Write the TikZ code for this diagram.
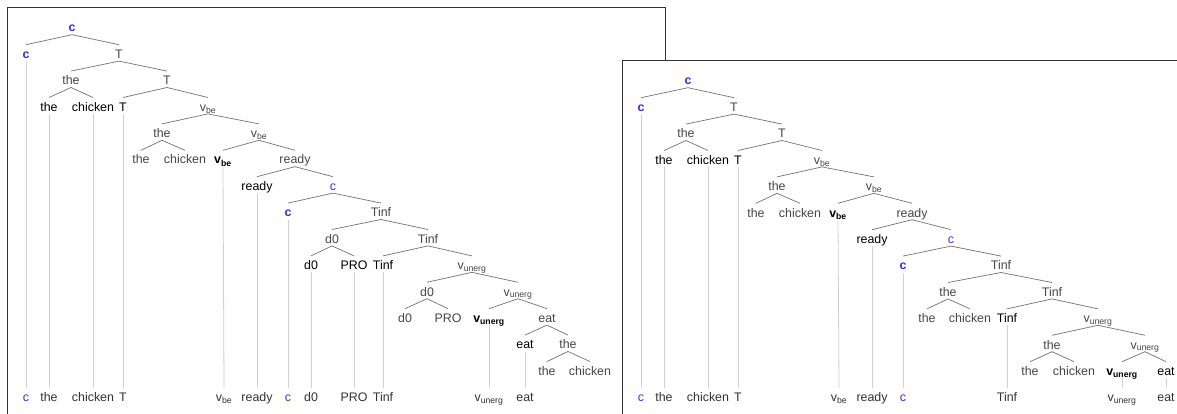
\documentclass[tikz,border=0pt]{standalone}
\usepackage{fontspec}
\setmainfont{Liberation Sans}
\definecolor{cblue}{RGB}{60,40,255}
\tikzset{
 nd/.style={anchor=base, yshift=-4.5pt, inner sep=0pt, text height=13.5pt, text depth=2.5pt, font=\fontsize{12.4}{14}\selectfont},
 int/.style={nd, text=black!72},
 lf/.style={nd, text=black},
 lfb/.style={nd, text=black, font=\fontsize{12.4}{14}\selectfont\bfseries},
 bl/.style={nd, text=cblue, font=\fontsize{12.4}{14}\selectfont\bfseries},
 blb/.style={nd, text=cblue},
 bot/.style={nd, text=black!80},
 edge/.style={draw=black!55, line width=0.7pt},
 link/.style={draw=black!18, line width=0.8pt},
 panel/.style={draw=black!80, line width=0.9pt, fill=white},
}
\newcommand{\vsub}[2]{#1\textsubscript{#2}}
\begin{document}
\begin{tikzpicture}[x=1pt,y=-1pt]
\useasboundingbox (0,0) rectangle (1177,414);
\clip (0,0) rectangle (1177,414);
% ---------------- left panel ----------------
\path[panel] (7,7) rectangle (665.5,430);
% nodes
\node[bl]  (La)   at (72,27.5)  {c};
\node[bl]  (Lc1)  at (26,53.9)  {c};
\node[int] (LT1)  at (119,53.9) {T};
\node[int] (Lth2) at (71,80.3)  {the};
\node[int] (LT2)  at (167,80.3) {T};
\node[lf]  (Lth3) at (49,106.7) {the};
\node[lf]  (Lch3) at (93,106.7) {chicken};
\node[lf]  (LT3)  at (123,106.7) {T};
\node[int] (Lv3)  at (208,106.7) {\vsub{v}{be}};
\node[int] (Lth4) at (162,133.1) {the};
\node[int] (Lv4)  at (259,133.1) {\vsub{v}{be}};
\node[int] (Lth5) at (141,159.5) {the};
\node[int] (Lch5) at (185,159.5) {chicken};
\node[lfb] (Lv5)  at (223,159.5) {\vsub{v}{be}};
\node[int] (Lr5)  at (295,159.5) {ready};
\node[lf]  (Lr6)  at (257,185.9) {ready};
\node[blb] (Lc6)  at (333,185.9) {c};
\node[bl]  (Lc7)  at (288,212.3) {c};
\node[int] (LTi7) at (381,212.3) {Tinf};
\node[int] (Ld8)  at (332,238.7) {d0};
\node[int] (LTi8) at (428,238.7) {Tinf};
\node[lf]  (Ld9)  at (311,265.1) {d0};
\node[lf]  (LP9)  at (354,265.1) {PRO};
\node[lf]  (LTi9) at (383,265.1) {Tinf};
\node[int] (Lu9)  at (472,265.1) {\vsub{v}{unerg}};
\node[int] (Ld10) at (427,291.5) {d0};
\node[int] (Lu10) at (518,291.5) {\vsub{v}{unerg}};
\node[int] (Ld11) at (405,317.9) {d0};
\node[int] (LP11) at (448,317.9) {PRO};
\node[lfb] (Lu11) at (489,317.9) {\vsub{v}{unerg}};
\node[int] (Le11) at (547,317.9) {eat};
\node[lf]  (Le12) at (525,344.3) {eat};
\node[int] (Lth12) at (568,344.3) {the};
\node[int] (Lth13) at (547,370.7) {the};
\node[int] (Lch13) at (590,370.7) {chicken};
% bottom
\node[blb] (LBc1) at (26,397)  {c};
\node[bot] (LBth) at (49,397)  {the};
\node[bot] (LBch) at (93,397)  {chicken};
\node[bot] (LBT)  at (123,397) {T};
\node[bot] (LBv)  at (224,397) {\vsub{v}{be}};
\node[bot] (LBr)  at (257,397) {ready};
\node[blb] (LBc2) at (288,397) {c};
\node[bot] (LBd)  at (311,397) {d0};
\node[bot] (LBP)  at (354,397) {PRO};
\node[bot] (LBTi) at (383,397) {Tinf};
\node[bot] (LBu)  at (489,397) {\vsub{v}{unerg}};
\node[bot] (LBe)  at (525,397) {eat};
% edges
\draw[edge] (La.south) -- (Lc1.north);  \draw[edge] (La.south) -- (LT1.north);
\draw[edge] (LT1.south) -- (Lth2.north); \draw[edge] (LT1.south) -- (LT2.north);
\draw[edge] (Lth2.south) -- (Lth3.north); \draw[edge] (Lth2.south) -- (Lch3.north);
\draw[edge] (LT2.south) -- (LT3.north); \draw[edge] (LT2.south) -- (Lv3.north);
\draw[edge] (Lv3.south) -- (Lth4.north); \draw[edge] (Lv3.south) -- (Lv4.north);
\draw[edge] (Lth4.south) -- (Lth5.north); \draw[edge] (Lth4.south) -- (Lch5.north);
\draw[edge] (Lv4.south) -- (Lv5.north); \draw[edge] (Lv4.south) -- (Lr5.north);
\draw[edge] (Lr5.south) -- (Lr6.north); \draw[edge] (Lr5.south) -- (Lc6.north);
\draw[edge] (Lc6.south) -- (Lc7.north); \draw[edge] (Lc6.south) -- (LTi7.north);
\draw[edge] (LTi7.south) -- (Ld8.north); \draw[edge] (LTi7.south) -- (LTi8.north);
\draw[edge] (Ld8.south) -- (Ld9.north); \draw[edge] (Ld8.south) -- (LP9.north);
\draw[edge] (LTi8.south) -- (LTi9.north); \draw[edge] (LTi8.south) -- (Lu9.north);
\draw[edge] (Lu9.south) -- (Ld10.north); \draw[edge] (Lu9.south) -- (Lu10.north);
\draw[edge] (Ld10.south) -- (Ld11.north); \draw[edge] (Ld10.south) -- (LP11.north);
\draw[edge] (Lu10.south) -- (Lu11.north); \draw[edge] (Lu10.south) -- (Le11.north);
\draw[edge] (Le11.south) -- (Le12.north); \draw[edge] (Le11.south) -- (Lth12.north);
\draw[edge] (Lth12.south) -- (Lth13.north); \draw[edge] (Lth12.south) -- (Lch13.north);
% links
\draw[link] (Lc1.south) -- (LBc1.north);
\draw[link] (Lth3.south) -- (LBth.north);
\draw[link] (Lch3.south) -- (LBch.north);
\draw[link] (LT3.south) -- (LBT.north);
\draw[link] (Lv5.south) -- (LBv.north);
\draw[link] (Lr6.south) -- (LBr.north);
\draw[link] (Lc7.south) -- (LBc2.north);
\draw[link] (Ld9.south) -- (LBd.north);
\draw[link] (LP9.south) -- (LBP.north);
\draw[link] (LTi9.south) -- (LBTi.north);
\draw[link] (Lu11.south) -- (LBu.north);
\draw[link] (Le12.south) -- (LBe.north);
% ---------------- right panel ----------------
\path[panel] (622,60) rectangle (1200,430);
\node[bl]  (Ra)   at (688,80.5)  {c};
\node[bl]  (Rc1)  at (641,106.9) {c};
\node[int] (RT1)  at (734,106.9) {T};
\node[int] (Rth2) at (686,133.3) {the};
\node[int] (RT2)  at (782,133.3) {T};
\node[lf]  (Rth3) at (664,159.7) {the};
\node[lf]  (Rch3) at (708,159.7) {chicken};
\node[lf]  (RT3)  at (738,159.7) {T};
\node[int] (Rv3)  at (822,159.7) {\vsub{v}{be}};
\node[int] (Rth4) at (777,186.1) {the};
\node[int] (Rv4)  at (874,186.1) {\vsub{v}{be}};
\node[int] (Rth5) at (756,212.5) {the};
\node[int] (Rch5) at (800,212.5) {chicken};
\node[lfb] (Rv5)  at (838,212.5) {\vsub{v}{be}};
\node[int] (Rr5)  at (912,212.5) {ready};
\node[lf]  (Rr6)  at (872,238.9) {ready};
\node[blb] (Rc6)  at (951,238.9) {c};
\node[bl]  (Rc7)  at (903,265.3) {c};
\node[int] (RTi7) at (1001,265.3) {Tinf};
\node[int] (Rth8) at (948,291.7) {the};
\node[int] (RTi8) at (1052,291.7) {Tinf};
\node[int] (Rth9) at (927,318.1) {the};
\node[int] (Rch9) at (970,318.1) {chicken};
\node[lf]  (RTi9) at (1007,318.1) {Tinf};
\node[int] (Ru9)  at (1098,318.1) {\vsub{v}{unerg}};
\node[int] (Rth10) at (1052,344.5) {the};
\node[int] (Ru10) at (1145,344.5) {\vsub{v}{unerg}};
\node[int] (Rth11) at (1030,370.9) {the};
\node[int] (Rch11) at (1074,370.9) {chicken};
\node[lfb] (Ru11) at (1122,370.9) {\vsub{v}{unerg}};
\node[lf]  (Re11) at (1166,370.9) {eat};
% bottom
\node[blb] (RBc1) at (641,397)  {c};
\node[bot] (RBth) at (664,397)  {the};
\node[bot] (RBch) at (708,397)  {chicken};
\node[bot] (RBT)  at (738,397)  {T};
\node[bot] (RBv)  at (839,397)  {\vsub{v}{be}};
\node[bot] (RBr)  at (872,397)  {ready};
\node[blb] (RBc2) at (903,397)  {c};
\node[bot] (RBTi) at (1007,397) {Tinf};
\node[bot] (RBu)  at (1122,397) {\vsub{v}{unerg}};
\node[bot] (RBe)  at (1166,397) {eat};
% edges
\draw[edge] (Ra.south) -- (Rc1.north);  \draw[edge] (Ra.south) -- (RT1.north);
\draw[edge] (RT1.south) -- (Rth2.north); \draw[edge] (RT1.south) -- (RT2.north);
\draw[edge] (Rth2.south) -- (Rth3.north); \draw[edge] (Rth2.south) -- (Rch3.north);
\draw[edge] (RT2.south) -- (RT3.north); \draw[edge] (RT2.south) -- (Rv3.north);
\draw[edge] (Rv3.south) -- (Rth4.north); \draw[edge] (Rv3.south) -- (Rv4.north);
\draw[edge] (Rth4.south) -- (Rth5.north); \draw[edge] (Rth4.south) -- (Rch5.north);
\draw[edge] (Rv4.south) -- (Rv5.north); \draw[edge] (Rv4.south) -- (Rr5.north);
\draw[edge] (Rr5.south) -- (Rr6.north); \draw[edge] (Rr5.south) -- (Rc6.north);
\draw[edge] (Rc6.south) -- (Rc7.north); \draw[edge] (Rc6.south) -- (RTi7.north);
\draw[edge] (RTi7.south) -- (Rth8.north); \draw[edge] (RTi7.south) -- (RTi8.north);
\draw[edge] (Rth8.south) -- (Rth9.north); \draw[edge] (Rth8.south) -- (Rch9.north);
\draw[edge] (RTi8.south) -- (RTi9.north); \draw[edge] (RTi8.south) -- (Ru9.north);
\draw[edge] (Ru9.south) -- (Rth10.north); \draw[edge] (Ru9.south) -- (Ru10.north);
\draw[edge] (Rth10.south) -- (Rth11.north); \draw[edge] (Rth10.south) -- (Rch11.north);
\draw[edge] (Ru10.south) -- (Ru11.north); \draw[edge] (Ru10.south) -- (Re11.north);
% links
\draw[link] (Rc1.south) -- (RBc1.north);
\draw[link] (Rth3.south) -- (RBth.north);
\draw[link] (Rch3.south) -- (RBch.north);
\draw[link] (RT3.south) -- (RBT.north);
\draw[link] (Rv5.south) -- (RBv.north);
\draw[link] (Rr6.south) -- (RBr.north);
\draw[link] (Rc7.south) -- (RBc2.north);
\draw[link] (RTi9.south) -- (RBTi.north);
\draw[link] (Ru11.south) -- (RBu.north);
\draw[link] (Re11.south) -- (RBe.north);
\end{tikzpicture}
\end{document}
